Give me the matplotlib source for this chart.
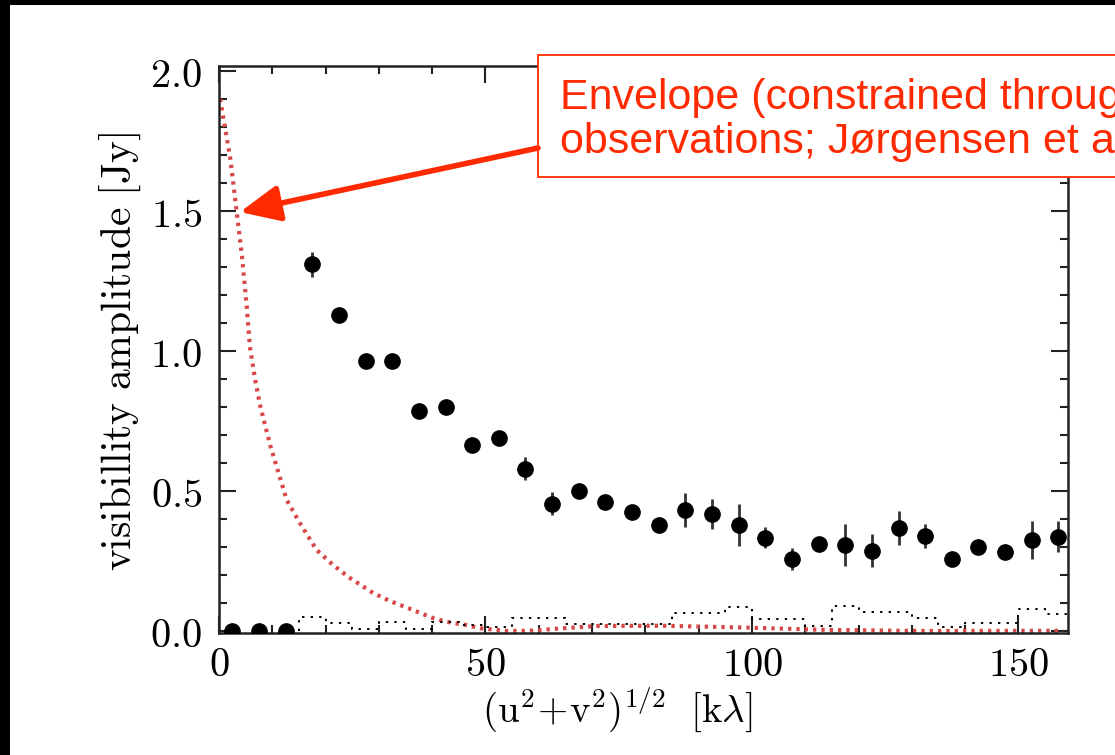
import numpy as np
import matplotlib
matplotlib.use("Agg")
import matplotlib.pyplot as plt
from matplotlib.patches import Rectangle, FancyArrowPatch
from matplotlib.ticker import MultipleLocator, FuncFormatter

plt.rcParams['mathtext.fontset'] = 'cm'

# binned visibilities (bin centres in k-lambda)
uv_dist = [2.5, 7.5, 12.5, 17.5, 22.5, 27.5, 32.5, 37.5, 42.5, 47.5, 52.5, 57.5,
           62.5, 67.5, 72.5, 77.5, 82.5, 87.5, 92.5, 97.5, 102.5, 107.5, 112.5,
           117.5, 122.5, 127.5, 132.5, 137.5, 142.5, 147.5, 152.5, 157.5]
amp = [0.0, 0.0, 0.0, 1.31, 1.13, 0.965, 0.965, 0.785, 0.80, 0.665, 0.69, 0.58,
       0.455, 0.50, 0.46, 0.425, 0.38, 0.432, 0.418, 0.38, 0.333, 0.257, 0.311,
       0.307, 0.287, 0.368, 0.339, 0.257, 0.30, 0.283, 0.325, 0.337]
amp_err = [0.0, 0.0, 0.0, 0.045, 0.015, 0.015, 0.025, 0.015, 0.025, 0.015, 0.015,
           0.04, 0.04, 0.015, 0.02, 0.015, 0.015, 0.06, 0.055, 0.075, 0.037, 0.04,
           0.02, 0.075, 0.06, 0.06, 0.043, 0.015, 0.025, 0.02, 0.068, 0.055]

# zero-signal expectation histogram (dotted black)
zero_edges = [15, 20, 25, 30, 35, 40, 45, 50, 55, 60, 65, 70, 75, 80, 85, 90, 95,
              100, 105, 110, 115, 120, 125, 130, 135, 140, 145, 150, 155, 160]
zero_level = [0.05, 0.028, 0.006, 0.031, 0.008, 0.031, 0.02, 0.014, 0.046, 0.046,
              0.026, 0.026, 0.026, 0.026, 0.064, 0.064, 0.087, 0.042, 0.042, 0.018,
              0.089, 0.067, 0.067, 0.046, 0.015, 0.03, 0.03, 0.079, 0.061]

# envelope model (dotted red)
env_x = [0.2, 2.1, 3.3, 4.3, 5.2, 5.8, 6.8, 7.7, 9.6, 12.7, 15.2, 18.3, 21.4,
         24.6, 28.9, 32.0, 36.4, 40.2, 42.7, 46.5, 49.0, 54.0, 58.3, 64.6, 70.9,
         83.0, 99.6, 114.0, 132.7, 158.4]
env_y = [1.90, 1.69, 1.50, 1.34, 1.16, 1.015, 0.896, 0.807, 0.664, 0.468, 0.385,
         0.29, 0.236, 0.189, 0.136, 0.108, 0.075, 0.046, 0.033, 0.021, 0.01, 0.0,
         0.001, 0.01, 0.018, 0.019, 0.012, 0.004, 0.0, 0.001]

fig = plt.figure(figsize=(11.15, 7.55), dpi=100)
ax = fig.add_axes([219/1115, 1 - 633/755, 849/1115, 567/755])

ax.plot(env_x, env_y, color='#d84848', lw=3.0, ls=(0, (0.8, 1.2)), zorder=2)
ax.stairs(zero_level, zero_edges, color='black', lw=1.4, ls=(0, (1.2, 3.2)), zorder=2)
ax.errorbar(uv_dist, amp, yerr=amp_err, fmt='o', color='black', ms=11,
            elinewidth=2, ecolor='#333333', capsize=0, zorder=3)

ax.set_xlim(0, 159.3)
ax.set_ylim(-0.007, 2.018)
ax.xaxis.set_major_locator(MultipleLocator(50))
ax.xaxis.set_minor_locator(MultipleLocator(10))
ax.yaxis.set_major_locator(MultipleLocator(0.5))
ax.yaxis.set_minor_locator(MultipleLocator(0.1))
ax.xaxis.set_major_formatter(FuncFormatter(lambda v, p: r'$%d$' % round(v)))
ax.yaxis.set_major_formatter(FuncFormatter(lambda v, p: r'$%.1f$' % v))
ax.tick_params(which='both', direction='in', top=True, right=True,
               width=1.5, color='#222222', labelsize=29)
ax.tick_params(which='major', length=12)
ax.tick_params(which='minor', length=6)
ax.tick_params(axis='x', pad=9)
ax.tick_params(axis='y', pad=12)
for s in ax.spines.values():
    s.set_linewidth(1.8)
    s.set_color('#222222')

ax.set_ylabel(r'$\mathrm{visibillity\ amplitude\ [Jy]}$', fontsize=30)
ax.set_xlabel(r'$\mathrm{(u^2\!+\!v^2)^{1/2}\ \ [k\lambda]}$', fontsize=28)
ax.yaxis.label.set_va('center')
ax.xaxis.label.set_va('center')
ax.yaxis.set_label_coords(-0.1166, 0.496)
ax.xaxis.set_label_coords(0.469, -0.135)

# annotation box and arrow
red = '#ff2a00'
fig.patches.append(Rectangle((538/1115, 1 - 177/755), 0.6, 122/755,
                             transform=fig.transFigure, facecolor='white',
                             edgecolor=red, lw=1.3, zorder=5))
fig.text(560/1115, 1 - 109/755, 'Envelope (constrained through single-dish',
         color=red, fontsize=31, family='Liberation Sans', va='baseline', zorder=6)
fig.text(560/1115, 1 - 153/755, 'observations; Jørgensen et al. 2007)',
         color=red, fontsize=31, family='Liberation Sans', va='baseline', zorder=6)
fig.patches.append(FancyArrowPatch((538/1115, 1 - 148/755), (240/1115, 1 - 212/755),
                                   transform=fig.transFigure,
                                   arrowstyle='-|>,head_length=1.1,head_width=0.5',
                                   mutation_scale=22, color=red, lw=4.0,
                                   shrinkA=0, shrinkB=0, zorder=6))

# black frame strips at top and left
fig.patches.append(Rectangle((0, 1 - 5/755), 1, 5/755, transform=fig.transFigure,
                             facecolor='black', edgecolor='none', zorder=7))
fig.patches.append(Rectangle((0, 0), 10/1115, 1, transform=fig.transFigure,
                             facecolor='black', edgecolor='none', zorder=7))

fig.savefig('out.png', dpi=100)
